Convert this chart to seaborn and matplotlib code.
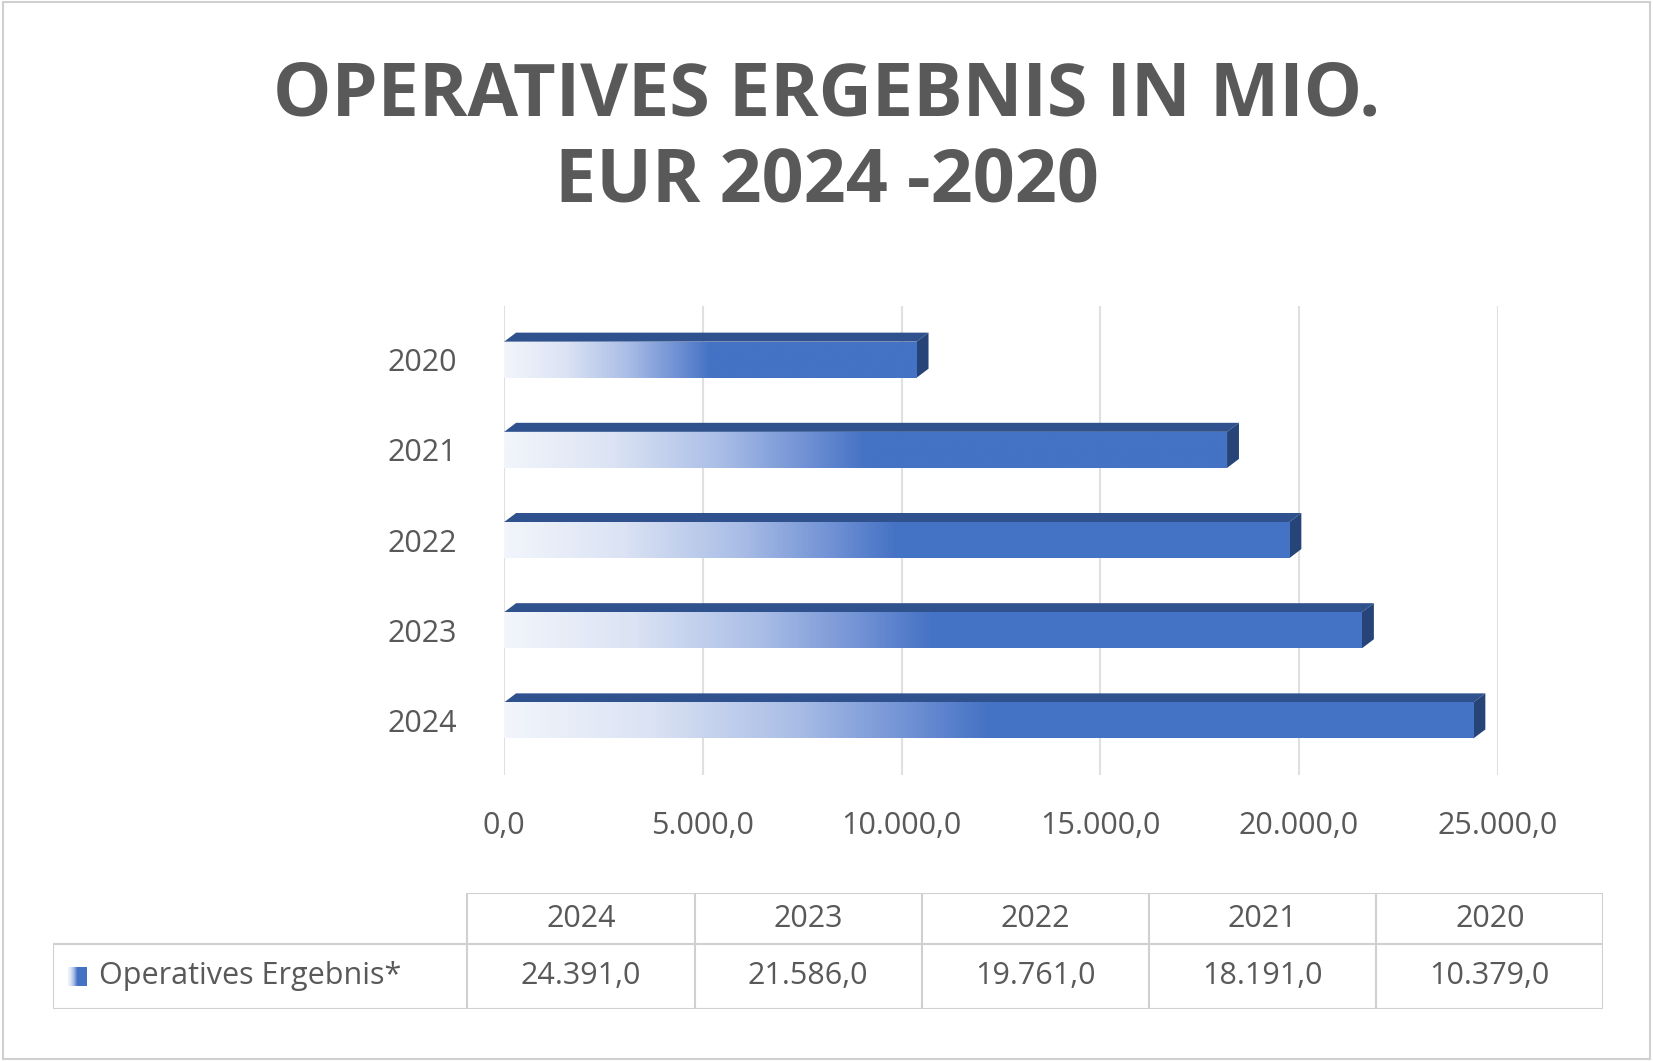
import matplotlib
matplotlib.use("Agg")
import matplotlib.pyplot as plt
import seaborn as sns
import numpy as np
import pandas as pd
from matplotlib.colors import LinearSegmentedColormap
from matplotlib.patches import Polygon, Rectangle

years = ["2020", "2021", "2022", "2023", "2024"]
values = [10379.0, 18191.0, 19761.0, 21586.0, 24391.0]
table_years = ["2024", "2023", "2022", "2021", "2020"]
table_values = ["24.391,0", "21.586,0", "19.761,0", "18.191,0", "10.379,0"]
series_name = "Operatives Ergebnis*"
title = "OPERATIVES ERGEBNIS IN MIO.\nEUR 2024 -2020"
xticks = [0, 5000, 10000, 15000, 20000, 25000]

def fmt(v):
    s = f"{v:,.1f}"
    return s.replace(",", "X").replace(".", ",").replace("X", ".")

plt.rcParams["font.family"] = "Open Sans"
fig = plt.figure(figsize=(16.53, 10.61), dpi=100)
fig.patches.append(Rectangle((0.002, 0.002), 0.996, 0.996, transform=fig.transFigure,
                             fill=False, edgecolor="#d0d0d0", lw=1.5))
grey = "#595959"
fig.text(0.5, 0.868, title, ha="center", va="center", fontsize=53, fontweight="bold",
         color=grey, linespacing=1.22)

ax = fig.add_axes([0.305, 0.27, 0.601, 0.442])
df = pd.DataFrame({"year": years, "value": values})
sns.barplot(data=df, y="year", x="value", orient="h", order=years, color="#4472c4",
            width=0.4, ax=ax)
ax.set_xlim(0, 25000)
ax.set_ylim(4.6, -0.6)
cmap = LinearSegmentedColormap.from_list(
    "g", [(0, "#f2f5fb"), (0.15, "#dbe3f4"), (0.3, "#a9bde6"), (0.42, "#6f90d4"),
          (0.5, "#4472c4"), (1, "#4472c4")])
grad = np.linspace(0, 1, 256).reshape(1, -1)
dx, dy = 300, -0.1
for p in list(ax.patches):
    x0, y0, w, h = p.get_x(), p.get_y(), p.get_width(), p.get_height()
    top = Polygon([(x0, y0), (x0 + w, y0), (x0 + w + dx, y0 + dy), (x0 + dx, y0 + dy)],
                  closed=True, facecolor="#2f528f", edgecolor="none", zorder=2)
    side = Polygon([(x0 + w, y0), (x0 + w + dx, y0 + dy), (x0 + w + dx, y0 + h + dy), (x0 + w, y0 + h)],
                   closed=True, facecolor="#264478", edgecolor="none", zorder=2)
    ax.add_patch(top); ax.add_patch(side)
    p.set_facecolor("none"); p.set_edgecolor("none")
    im = ax.imshow(grad, cmap=cmap, aspect="auto", extent=(x0, x0 + w, y0 + h, y0), zorder=3)
    im.set_clip_path(p)
    ax.set_xlim(0, 25000); ax.set_ylim(4.6, -0.6)
ax.set_xticks(xticks)
ax.set_xticklabels([fmt(v) for v in xticks])
ax.grid(axis="x", color="#e0e0e0", lw=1.5)
ax.set_axisbelow(True)
for s in ax.spines.values():
    s.set_visible(False)
ax.tick_params(length=0, labelsize=22, colors=grey)
ax.tick_params(axis="x", pad=26)
ax.tick_params(axis="y", pad=34)
ax.set_xlabel(""); ax.set_ylabel("")

# data table
tax = fig.add_axes([0.032, 0.049, 0.938, 0.109])
tax.set_xlim(0, 1470); tax.set_ylim(0, 110)
tax.axis("off")
lc = "#d0d0d0"
xs = [0, 393] + [393 + 215.4 * i for i in range(1, 6)]
tax.plot([393, 1470], [110, 110], color=lc, lw=1.5)
tax.plot([0, 1470], [62, 62], color=lc, lw=1.5)
tax.plot([0, 1470], [0, 0], color=lc, lw=1.5)
tax.plot([0, 0], [0, 62], color=lc, lw=1.5)
for x in xs[1:]:
    tax.plot([x, x], [0, 110], color=lc, lw=1.5)
for i in range(5):
    cx = (xs[i + 1] + xs[i + 2]) / 2
    tax.text(cx, 86, table_years[i], ha="center", va="center", fontsize=22, color=grey)
    tax.text(cx, 31, table_values[i], ha="center", va="center", fontsize=22, color=grey)
tax.imshow(grad, cmap=cmap, aspect="auto", extent=(14, 32, 22, 40), zorder=3)
tax.set_xlim(0, 1470); tax.set_ylim(0, 110)
tax.text(44, 31, series_name, ha="left", va="center", fontsize=22, color=grey)

fig.savefig("out.png", dpi=100)
